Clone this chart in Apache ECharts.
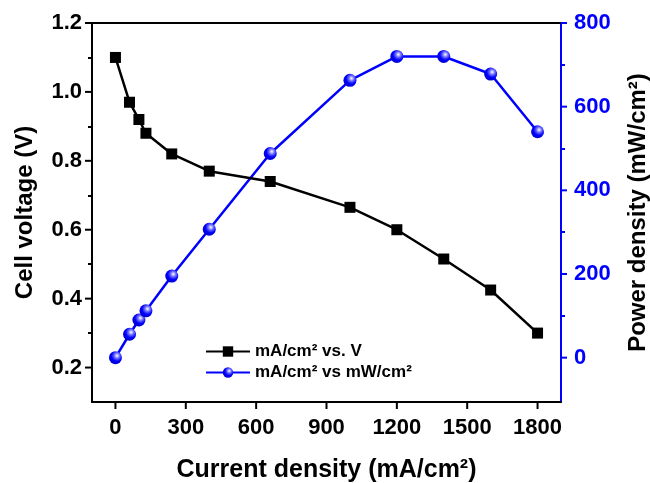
<!DOCTYPE html>
<html>
<head>
<meta charset="utf-8">
<script src="https://cdn.jsdelivr.net/npm/echarts@6/dist/echarts.min.js"></script>
<style>
html,body{margin:0;padding:0;background:#fff;}
#chart{width:650px;height:483px;}
</style>
</head>
<body>
<div id="chart"></div>
<script>
// Data
var currentDensity = [0, 60, 100, 130, 240, 400, 660, 1000, 1200, 1400, 1600, 1800];
var cellVoltage   = [1.10, 0.97, 0.92, 0.88, 0.82, 0.77, 0.74, 0.665, 0.60, 0.515, 0.425, 0.30];
var powerDensity  = [0, 56, 90, 112, 195, 307, 488, 663, 720, 720, 678, 540];

// tick labels / tick positions
var xTicks = [0, 300, 600, 900, 1200, 1500, 1800];
var voltTicks = [0.2, 0.4, 0.6, 0.8, 1.0, 1.2];
var voltMinorTicks = [0.3, 0.5, 0.7, 0.9, 1.1];
var powTicks = [0, 200, 400, 600, 800];
var powMinorTicks = [100, 300, 500, 700];

var xRange = [-100, 1900];
var vRange = [0.1, 1.2];
var pRange = [-106, 800];

var seriesNames = ['mA/cm² vs. V', 'mA/cm² vs mW/cm²'];

var FONT = "'Liberation Sans', Arial, sans-serif";
var BLUE = '#0000ff';

var chart = echarts.init(document.getElementById('chart'), null, {renderer: 'canvas'});

var voltData = currentDensity.map(function (c, i) { return [c, cellVoltage[i]]; });
var powData = currentDensity.map(function (c, i) { return [c, powerDensity[i]]; });

var sphere = new echarts.graphic.RadialGradient(0.62, 0.35, 0.7, [
  {offset: 0, color: '#ffffff'},
  {offset: 0.3, color: '#6a6aff'},
  {offset: 0.6, color: '#0000ff'},
  {offset: 1, color: '#0000c8'}
]);

function minorAxis(pos, range, values, len, color) {
  return {
    type: 'value', position: pos, min: range[0], max: range[1],
    axisLine: {show: false, onZero: false},
    axisTick: {show: true, inside: false, length: len, customValues: values.slice(), lineStyle: {color: color, width: 2}},
    axisLabel: {show: false}, splitLine: {show: false}
  };
}

// tick marks drawn through the axis scales (custom series)
function tickSeries(data, yIdx, dx, dy, color) {
  return {
    type: 'custom', xAxisIndex: 0, yAxisIndex: yIdx, silent: true, clip: false, z: 6,
    data: data,
    renderItem: function (params, api) {
      var p = api.coord([api.value(0), api.value(1)]);
      return {
        type: 'line',
        shape: {x1: p[0], y1: p[1], x2: p[0] + dx, y2: p[1] + dy},
        style: {stroke: color, lineWidth: 2}
      };
    }
  };
}

var labelFont = {fontFamily: FONT, fontWeight: 'bold', fontSize: 22};

var option = {
  animation: false,
  backgroundColor: '#fff',
  grid: {left: 92, right: 89, top: 23, bottom: 81, containLabel: false, outerBoundsMode: 'none'},
  legend: {
    orient: 'vertical',
    left: 200,
    top: 338,
    itemWidth: 44,
    itemHeight: 13,
    itemGap: 4,
    textStyle: {fontFamily: FONT, fontWeight: 'bold', fontSize: 17, color: '#000'},
    data: seriesNames
  },
  xAxis: [
    {
      type: 'value', position: 'bottom', min: xRange[0], max: xRange[1],
      name: 'Current density (mA/cm²)', nameLocation: 'middle', nameGap: 56,
      nameTextStyle: {fontFamily: FONT, fontWeight: 'bold', fontSize: 25, color: '#000'},
      axisLine: {show: true, onZero: false, lineStyle: {color: '#000', width: 2}},
      axisTick: {show: false},
      axisLabel: Object.assign({show: true, customValues: xTicks.slice(), margin: 15, color: '#000',
        formatter: function (v) { return String(v); }}, labelFont),
      splitLine: {show: false}
    },
    {
      type: 'value', position: 'top', min: xRange[0], max: xRange[1],
      axisLine: {show: true, onZero: false, lineStyle: {color: '#000', width: 2}},
      axisTick: {show: false}, axisLabel: {show: false}, splitLine: {show: false}
    }
  ],
  yAxis: [
    {
      type: 'value', position: 'left', min: vRange[0], max: vRange[1],
      name: 'Cell voltage (V)', nameLocation: 'middle', nameGap: 55, nameRotate: 90,
      nameTextStyle: {fontFamily: FONT, fontWeight: 'bold', fontSize: 24, color: '#000'},
      axisLine: {show: true, onZero: false, lineStyle: {color: '#000', width: 2}},
      axisTick: {show: false},
      axisLabel: Object.assign({show: true, customValues: voltTicks.slice(), margin: 10, color: '#000',
        formatter: function (v) { return v.toFixed(1); }}, labelFont),
      splitLine: {show: false}
    },
    {
      type: 'value', position: 'right', min: pRange[0], max: pRange[1],
      name: 'Power density (mW/cm²)', nameLocation: 'middle', nameGap: 65, nameRotate: 90,
      nameTextStyle: {fontFamily: FONT, fontWeight: 'bold', fontSize: 24, color: '#000'},
      axisLine: {show: true, onZero: false, lineStyle: {color: BLUE, width: 2}},
      axisTick: {show: false},
      axisLabel: Object.assign({show: true, customValues: powTicks.slice(), margin: 13, color: BLUE,
        formatter: function (v) { return String(v); }}, labelFont),
      splitLine: {show: false}
    },
    minorAxis('left', vRange, voltMinorTicks, 4, '#000'),
    minorAxis('right', pRange, powMinorTicks, 4, BLUE)
  ],
  series: [
    {
      name: seriesNames[0], type: 'line', xAxisIndex: 0, yAxisIndex: 0,
      data: voltData, symbol: 'rect', symbolSize: 11, showAllSymbol: true,
      itemStyle: {color: '#000'}, lineStyle: {color: '#000', width: 2.5}, z: 3
    },
    {
      name: seriesNames[1], type: 'line', xAxisIndex: 0, yAxisIndex: 1,
      data: powData, symbol: 'circle', symbolSize: 13, showAllSymbol: true,
      itemStyle: {color: sphere}, lineStyle: {color: BLUE, width: 2.5}, z: 2
    },
    tickSeries(xTicks.map(function (v) { return [v, vRange[0]]; }), 0, 0, 7, '#000'),
    tickSeries(voltTicks.map(function (v) { return [xRange[0], v]; }), 0, -7, 0, '#000'),
    tickSeries(powTicks.map(function (v) { return [xRange[1], v]; }), 1, 6, 0, BLUE)
  ]
};
chart.setOption(option);
</script>
</body>
</html>
